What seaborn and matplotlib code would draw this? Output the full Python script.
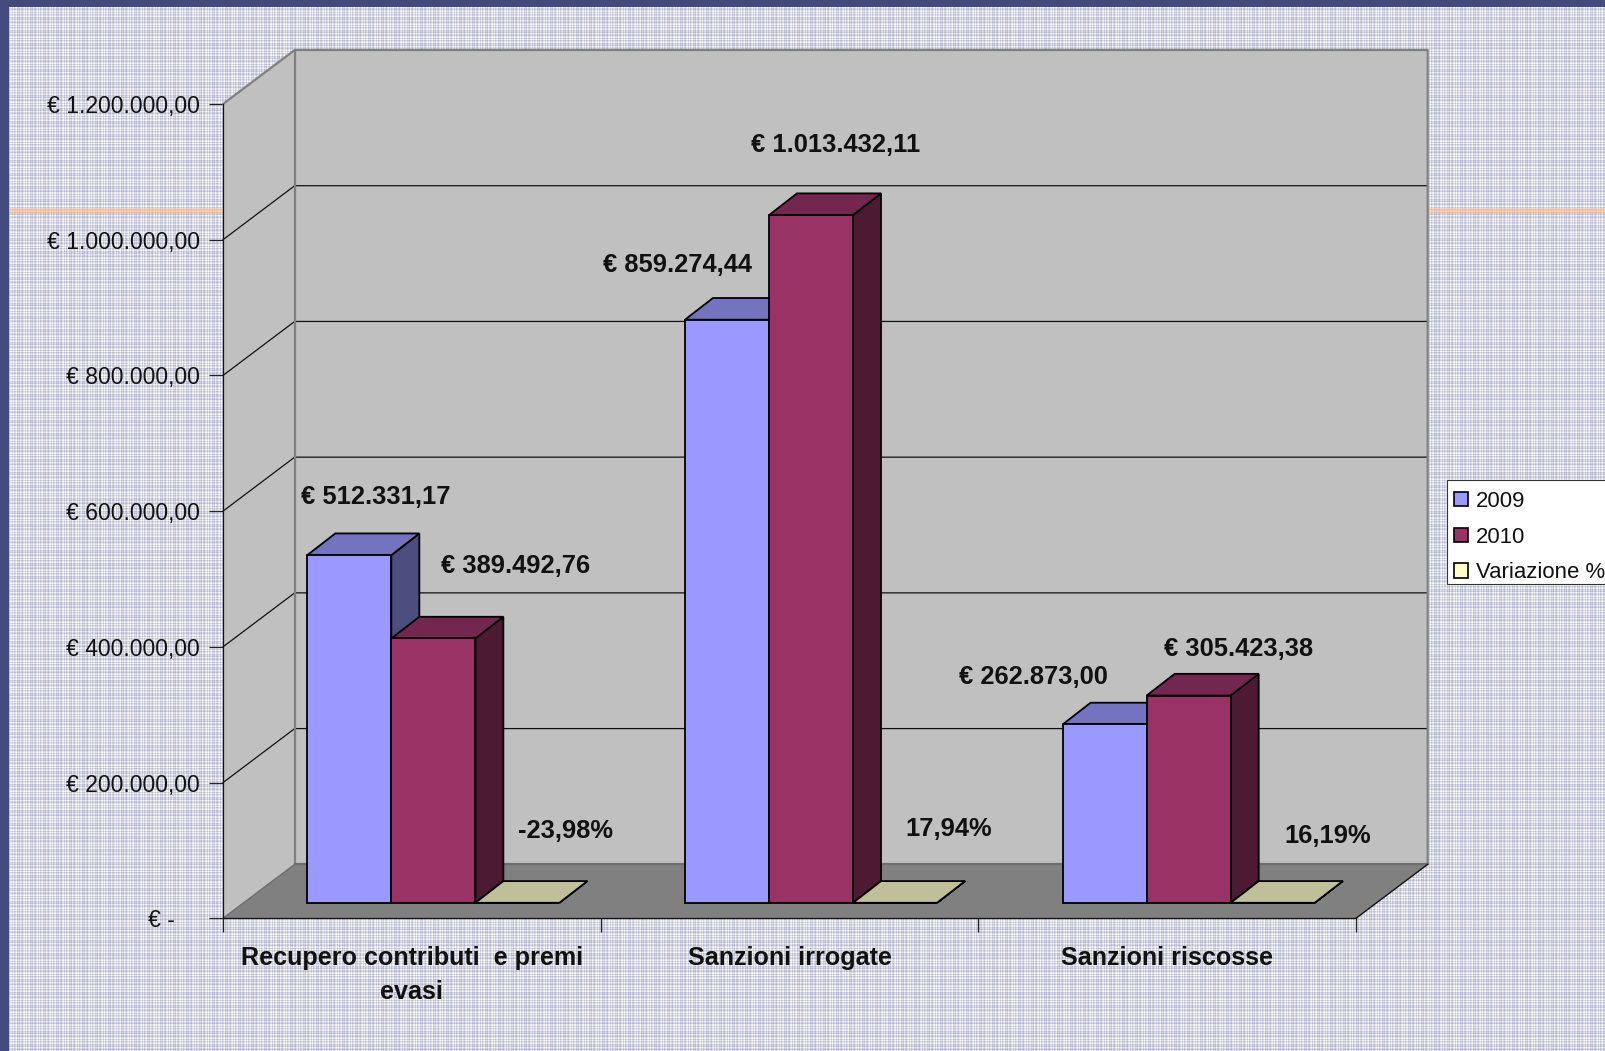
import numpy as np
import pandas as pd
import seaborn as sns
import matplotlib
matplotlib.use("Agg")
import matplotlib.pyplot as plt
from matplotlib.patches import Polygon, Patch, Rectangle

# ---- data ----
categories = ["Recupero contributi  e premi\nevasi", "Sanzioni irrogate", "Sanzioni riscosse"]
series_names = ["2009", "2010", "Variazione %"]
values_2009 = [512331.17, 859274.44, 262873.00]
values_2010 = [389492.76, 1013432.11, 305423.38]
values_var = [-0.2398, 0.1794, 0.1619]
labels_2009 = ["€ 512.331,17", "€ 859.274,44", "€ 262.873,00"]
labels_2010 = ["€ 389.492,76", "€ 1.013.432,11", "€ 305.423,38"]
labels_var = ["-23,98%", "17,94%", "16,19%"]
y_ticks = [0, 200000, 400000, 600000, 800000, 1000000, 1200000]
y_tick_labels = ["€ -", "€ 200.000,00", "€ 400.000,00", "€ 600.000,00",
                 "€ 800.000,00", "€ 1.000.000,00", "€ 1.200.000,00"]
palette_front = ["#9999FF", "#993366", "#FFFFCC"]
palette_top = ["#7373BF", "#732650", "#BFBF99"]
palette_side = ["#4D4D80", "#4D1A33", "#80805F"]

# label offsets from the top centre of each bar, in pixels
offsets = [[(26, 58), (-49, 55), (-71, 47)],
           [(82, 72), (25, 70), (50, 47)],
           [(48, 72), (54, 74), (55, 67)]]

W, H = 1605, 1051
sns.set_theme(style="white")
plt.rcParams["font.family"] = ["Liberation Sans", "DejaVu Sans"]
fig = plt.figure(figsize=(W / 100, H / 100), dpi=100)


def rect(l, t, r, b):
    return [l / W, 1 - b / H, (r - l) / W, (b - t) / H]


# ---- woven background ----
bg = fig.add_axes([0, 0, 1, 1], zorder=0)
weave = np.array([0, .75, .35, 0, .8, .5, .85, .1, .55, .9, .25, .0, .7])
n = len(weave)
rows = weave[np.arange(H) % n]
cols = weave[np.arange(W) % n]
shade = 1 - np.clip((rows[:, None] + cols[None, :]) * 0.36, 0, 0.62)
base = np.array([0x76, 0x7C, 0xA3]) / 255
img = 1 - (1 - shade[..., None]) * (1 - base) / 0.62 * 0.58
bg.imshow(img, extent=(0, W, H, 0), aspect="auto", interpolation="nearest")
bg.axhspan(208, 213.5, color="#FFB98A", alpha=0.55, lw=0)
bg.axvspan(0, 9, color="#434B7C", lw=0)
bg.axhspan(0, 7, color="#434B7C", lw=0)
bg.set_xlim(0, W)
bg.set_ylim(H, 0)
bg.axis("off")

# ---- front plane of the 3D box: axes, ticks, walls ----
FL, FR, FT, FB = 223.0, 1356.0, 104.0, 918.3
axf = fig.add_axes(rect(FL, FT, FR, FB), zorder=1)
axf.patch.set_visible(False)
axf.set_xlim(0, 3)
axf.set_ylim(0, 1200000)
px_x = 3 / (FR - FL)
px_y = 1200000 / (FB - FT)
DX, DY = 71.7 * px_x, 54.0 * px_y
YMAX = 1200000

wall = "#C0C0C0"
axf.add_patch(Polygon([(0, 0), (0, YMAX), (DX, YMAX + DY), (DX, DY)], closed=True, fc=wall, ec="none", clip_on=False, zorder=1))
axf.add_patch(Rectangle((DX, DY), 3, YMAX, fc=wall, ec="none", clip_on=False, zorder=1))
axf.add_patch(Polygon([(0, 0), (3, 0), (3 + DX, DY), (DX, DY)], closed=True, fc="#808080", ec="none", clip_on=False, zorder=1))
for v in y_ticks[1:-1]:
    axf.plot([0, DX, 3 + DX], [v, v + DY, v + DY], color="#111111", lw=0.9, clip_on=False, zorder=2)
edge = "#808080"
axf.plot([0, DX, 3 + DX, 3 + DX], [YMAX, YMAX + DY, YMAX + DY, DY], color=edge, lw=1.6, clip_on=False, zorder=2)
axf.plot([DX, DX], [DY, YMAX + DY], color=edge, lw=1.6, clip_on=False, zorder=2)
axf.plot([0, DX], [0, DY], color="#6E6E6E", lw=1.0, clip_on=False, zorder=2)
axf.plot([DX, 3 + DX], [DY, DY], color="#6E6E6E", lw=1.6, clip_on=False, zorder=2)
axf.plot([3, 3 + DX], [0, DY], color="#111111", lw=1.0, clip_on=False, zorder=3)

for s in ["top", "right"]:
    axf.spines[s].set_visible(False)
for s in ["left", "bottom"]:
    axf.spines[s].set_color("#111111")
    axf.spines[s].set_linewidth(0.9)
axf.set_yticks(y_ticks)
axf.set_yticklabels(y_tick_labels, fontsize=16.5, color="#111111")
axf.set_xticks([0, 1, 2, 3])
axf.set_xticklabels([])
axf.set_xticks([0.5, 1.5, 2.5], minor=True)
axf.set_xticklabels(categories, minor=True, fontsize=18.1, fontweight="bold", color="#111111", linespacing=1.52)
axf.tick_params(axis="y", which="major", length=10, width=0.9, color="#222222", pad=6.5, left=True)
axf.tick_params(axis="x", which="major", length=10, width=0.9, color="#222222", bottom=True)
axf.tick_params(axis="x", which="minor", length=0, pad=19.7)
axf.yaxis.get_major_ticks()[0].set_pad(25)
axf.grid(False)

# ---- plane of the bars, set back into the box ----
SHIFT_X, SHIFT_Y = 21.5, 15.5
ax = fig.add_axes(rect(FL + SHIFT_X, FT - SHIFT_Y, FR + SHIFT_X, FB - SHIFT_Y), zorder=2)
ax.patch.set_visible(False)

df = pd.DataFrame({
    "categoria": categories * 3,
    "serie": [s for s in series_names for _ in categories],
    "valore": values_2009 + values_2010 + values_var,
})
sns.barplot(data=df, x="categoria", y="valore", hue="serie", order=categories,
            hue_order=series_names, palette=palette_front, saturation=1,
            width=0.6675, gap=0, edgecolor="black", linewidth=1.3, ax=ax,
            legend=False, errorbar=None)
ax.set_xlim(-0.5, 2.5)
ax.set_ylim(0, YMAX)
ax.axis("off")

BX, BY = 28.0 * px_x, 21.7 * px_y
bars = list(ax.patches)
texts = [labels_2009, labels_2010, labels_var]
for i, bar in enumerate(bars):
    s, c = divmod(i, 3)
    x0, w, h = bar.get_x(), bar.get_width(), bar.get_height()
    h = max(h, 0)
    z = 3 + s * 3
    ax.add_patch(Polygon([(x0 + w, 0), (x0 + w + BX, BY), (x0 + w + BX, h + BY), (x0 + w, h)], closed=True,
                         fc=palette_side[s], ec="black", lw=1.3, zorder=z, clip_on=False))
    ax.add_patch(Polygon([(x0, h), (x0 + w, h), (x0 + w + BX, h + BY), (x0 + BX, h + BY)], closed=True,
                         fc=palette_top[s], ec="black", lw=1.3, zorder=z, clip_on=False))
    bar.set_zorder(z + 1)
    bar.set_clip_on(False)
    ax.annotate(texts[s][c], xy=(x0 + w / 2, h), xytext=offsets[s][c], xycoords="data",
                textcoords="offset pixels", ha="center", va="center",
                fontsize=18.4, fontweight="bold", color="#111111", zorder=20, annotation_clip=False)

# ---- legend: white box running off the right edge, entries inside it ----
fig.add_artist(Rectangle((1446.7 / W, 1 - 584 / H), 200 / W, 104 / H, transform=fig.transFigure,
                         fc="white", ec="#333333", lw=0.8, zorder=5))
handles = [Patch(fc=c, ec="black", lw=1.2, label=n) for c, n in zip(palette_front, series_names)]
leg = fig.legend(handles=handles, loc="upper left",
                 bbox_to_anchor=(1446.7 / W, 1 - 483.5 / H), bbox_transform=fig.transFigure,
                 fontsize=15.9, frameon=False, handlelength=0.62, handleheight=0.62, handletextpad=0.36,
                 labelspacing=0.66, borderpad=0.34, borderaxespad=0)
leg.set_zorder(6)
for t in leg.get_texts():
    t.set_color("#111111")

fig.savefig("out.png", dpi=100)
